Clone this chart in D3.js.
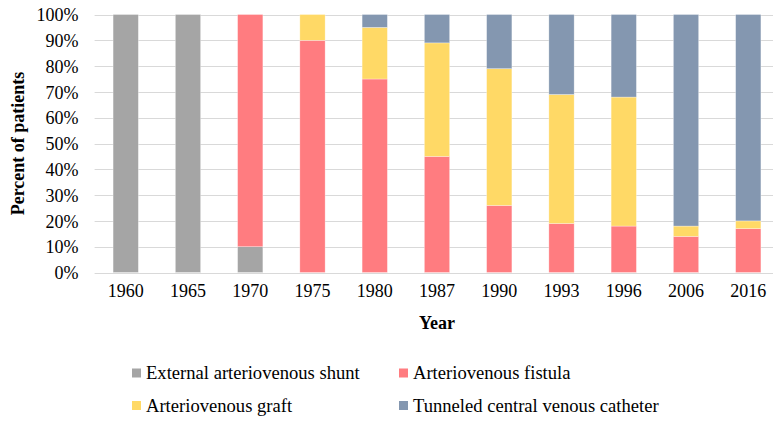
<!DOCTYPE html>
<html>
<head>
<meta charset="utf-8">
<script src="https://cdn.jsdelivr.net/npm/d3@7"></script>
<style>
  html, body { margin: 0; padding: 0; background: #fff; }
  svg { display: block; }
  text { font-family: "Liberation Serif", "Times New Roman", serif; fill: #000; }
</style>
</head>
<body>
<svg id="chart" width="773" height="422"></svg>
<script>
const years = ["1960", "1965", "1970", "1975", "1980", "1987", "1990", "1993", "1996", "2006", "2016"];
const seriesNames = ["External arteriovenous shunt", "Arteriovenous fistula", "Arteriovenous graft", "Tunneled central venous catheter"];
const shunt    = [100, 100, 10, 0, 0, 0, 0, 0, 0, 0, 0];
const fistula  = [0, 0, 90, 90, 75, 45, 26, 19, 18, 14, 17];
const graft    = [0, 0, 0, 10, 20, 44, 53, 50, 50, 4, 3];
const catheter = [0, 0, 0, 0, 5, 11, 21, 31, 32, 82, 80];
const colors = ["#A5A5A5", "#FF7C80", "#FFD966", "#8497B0"];
const yTicks = [0, 10, 20, 30, 40, 50, 60, 70, 80, 90, 100];

const seriesValues = [shunt, fistula, graft, catheter];
const table = years.map((yr, i) => {
  const row = { year: yr };
  seriesNames.forEach((n, k) => row[n] = seriesValues[k][i]);
  return row;
});

const svg = d3.select("#chart");
const plotL = 94.6, plotR = 779.4, plotT = 14.5, plotB = 272.5;

const x = d3.scaleBand().domain(years).range([plotL, plotR]).paddingInner(0.594).paddingOuter(0.297);
const y = d3.scaleLinear().domain([0, 100]).range([plotB, plotT]);

// gridlines
svg.append("g").selectAll("line").data(yTicks).join("line")
  .attr("x1", plotL).attr("x2", 773)
  .attr("y1", d => Math.round(y(d)) + 0.5).attr("y2", d => Math.round(y(d)) + 0.5)
  .attr("stroke", "#D9D9D9").attr("stroke-width", 1);

// stacked bars
const stack = d3.stack().keys(seriesNames)(table);
svg.append("g").selectAll("g").data(stack).join("g")
  .attr("fill", (d, i) => colors[i])
  .selectAll("rect").data(d => d.filter(p => p[1] - p[0] > 0)).join("rect")
  .attr("x", d => x(d.data.year))
  .attr("width", x.bandwidth())
  .attr("y", d => y(d[1]))
  .attr("height", d => y(d[0]) - y(d[1]))
  .attr("stroke", "#ffffff").attr("stroke-opacity", 0.5).attr("stroke-width", 0.6);

// y axis labels
const yAxis = d3.axisLeft(y).tickValues(yTicks).tickFormat(d => d + "%").tickSize(0).tickPadding(0);
const gy = svg.append("g").attr("transform", `translate(78.5,0)`).call(yAxis);
gy.select(".domain").remove();
gy.selectAll("text").attr("font-size", 18).attr("font-family", "Liberation Serif").attr("fill", "#000").attr("dy", "0.34em");

// x axis labels
const xAxis = d3.axisBottom(x).tickSize(0).tickPadding(0);
const gx = svg.append("g").attr("transform", `translate(0,${plotB + 18})`).call(xAxis);
gx.select(".domain").remove();
gx.selectAll("text").attr("font-size", 18).attr("font-family", "Liberation Serif").attr("fill", "#000").attr("dy", "0.34em");

// axis titles
svg.append("text").attr("x", (plotL + plotR) / 2).attr("y", 323).attr("dy", "0.34em")
  .attr("text-anchor", "middle").attr("font-size", 18).attr("font-weight", "bold").text("Year");
svg.append("text").attr("transform", `translate(18,${(plotT + plotB) / 2}) rotate(-90)`).attr("dy", "0.34em")
  .attr("text-anchor", "middle").attr("font-size", 18).attr("font-weight", "bold").text("Percent of patients");

// legend
const legendPos = [[132, 373], [399, 373], [132, 405.5], [399, 405.5]];
const lg = svg.append("g").selectAll("g").data(seriesNames).join("g")
  .attr("transform", (d, i) => `translate(${legendPos[i][0]},${legendPos[i][1]})`);
lg.append("rect").attr("x", 0).attr("y", -4.5).attr("width", 9).attr("height", 9).attr("fill", (d, i) => colors[i]);
lg.append("text").attr("x", 14).attr("dy", "0.34em").attr("font-size", 18.6).text(d => d);
</script>
</body>
</html>
